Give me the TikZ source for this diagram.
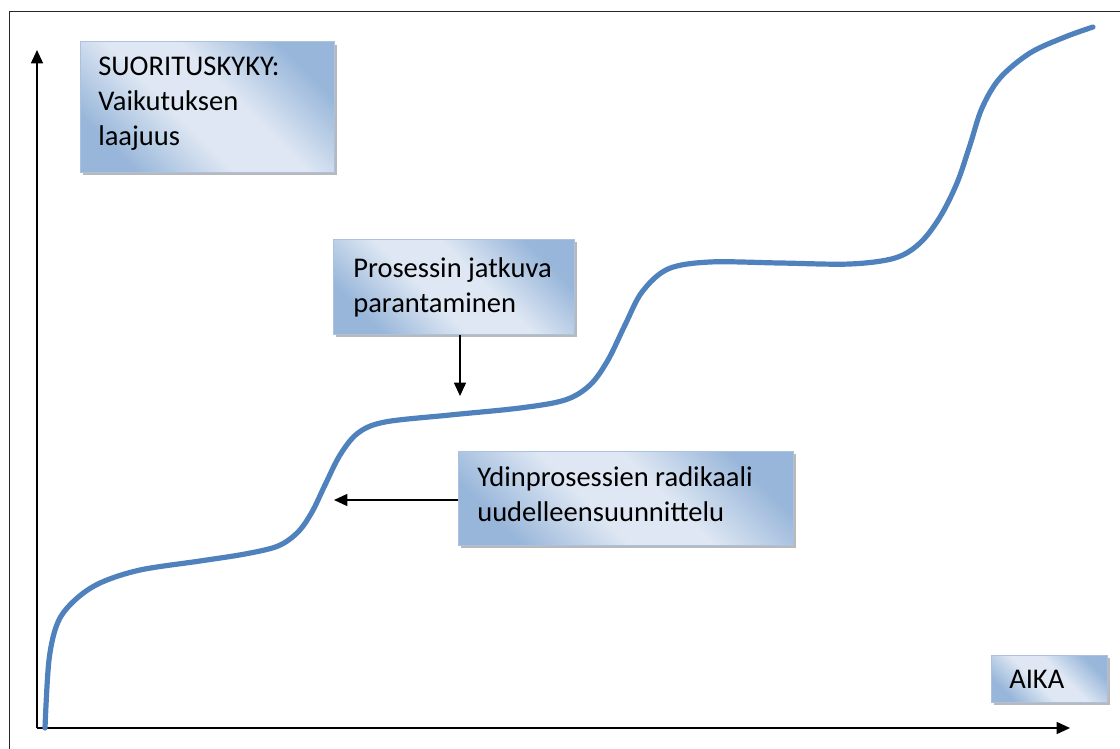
\documentclass[tikz,border=0pt]{standalone}
\usepackage{fontspec}
\setmainfont{Carlito}
\usetikzlibrary{shadows,arrows.meta,fit}
\definecolor{curveblue}{RGB}{79,129,189}
\definecolor{boxdark}{RGB}{152,182,218}
\definecolor{boxlight}{RGB}{222,231,243}
\definecolor{boxedge}{RGB}{170,194,224}
\pgfdeclareverticalshading{boxshade}{100bp}{color(0bp)=(boxdark); color(25bp)=(boxdark); color(43bp)=(boxlight); color(57bp)=(boxlight); color(75bp)=(boxdark); color(100bp)=(boxdark)}
\begin{document}
\begin{tikzpicture}[x=0.75pt,y=-0.75pt,
  box/.style={draw=boxedge, line width=0.75pt, inner sep=0pt,
    shading=boxshade, shading angle=-45,
    drop shadow={shadow xshift=2.2pt, shadow yshift=-2.2pt, fill=black!55, opacity=0.5}},
  lbl/.style={anchor=base west, inner sep=0pt, font=\fontsize{21.4}{26}\selectfont, align=left, text=black},
  ax/.style={line width=1.1pt, -{Triangle[length=10pt,width=9pt]}},
  pointer/.style={line width=1pt, -{Triangle[length=10pt,width=9pt]}},
  frameline/.style={line width=1.2pt, draw=black!85}
]
\useasboundingbox (0,0) rectangle (1120,749);
% frame
\draw[frameline] (9.5,760) -- (9.5,11.5) -- (1130,11.5);
% axes
\coordinate (O) at (37,728);
\coordinate (ytop) at (37,50);
\coordinate (xend) at (1070,728);
\draw[ax] (O) -- (ytop);
\draw[ax] (O) -- (xend);
% curve
\draw[curveblue, line width=3.9pt, line cap=round] plot[smooth, tension=0.55] coordinates {
 (45,728) (49,660) (58,622) (75,600) (100,583) (140,570) (200,561) (245,554)
 (278,546) (298,532) (312,512) (325,485) (340,455) (358,433) (385,422) (450,415) (520,408)
 (565,400) (590,385) (608,360) (625,325) (642,292) (668,269) (710,262) (780,263)
 (850,264) (895,258) (920,243) (940,217) (957,183) (970,145) (982,108) (1000,78)
 (1030,53) (1065,37) (1093,27)};
% boxes
\node[box, fit={(80,42) (334,172)}] (b1) {};
\node[lbl] (t1) at (98,145) {SUORITUSKYKY:\\Vaikutuksen\\laajuus};
\node[box, fit={(333,239) (574,334)}] (b2) {};
\node[lbl] (t2) at (353,312) {Prosessin jatkuva\\parantaminen};
\node[box, fit={(458,451) (793,545)}] (b3) {};
\node[lbl] (t3) at (477,521) {Ydinprosessien radikaali\\uudelleensuunnittelu};
\node[box, fit={(991,655) (1107,702)}] (b4) {};
\node[lbl] (t4) at (1009,688) {AIKA};
% pointers
\coordinate (c1) at (460,396);
\coordinate (c2) at (334,500);
\draw[pointer] (b2.south -| c1) -- (c1);
\draw[pointer] (b3.west |- c2) -- (c2);
\end{tikzpicture}
\end{document}
